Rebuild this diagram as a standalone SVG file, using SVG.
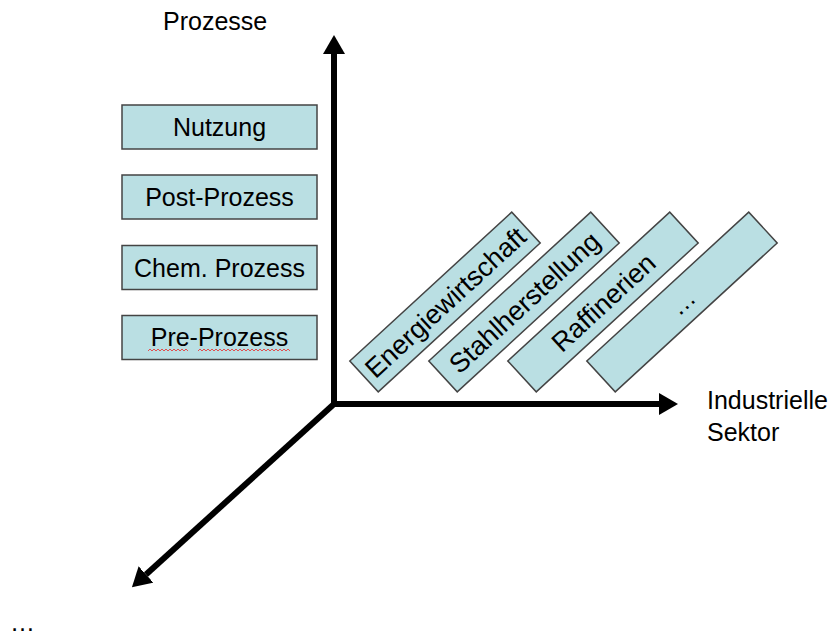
<svg xmlns="http://www.w3.org/2000/svg" width="835" height="639" viewBox="0 0 835 639">
<defs>
<style>
.box{fill:#BADFE3;stroke:#444;stroke-width:1.5}
.t{font-family:"Liberation Sans",Arial,sans-serif;font-size:25px;fill:#000}
.s{font-size:27px}
.c{text-anchor:middle}
.axis{stroke:#000;stroke-width:6;fill:none}
.squig{stroke:#E05050;stroke-width:1;fill:none}
</style>
<marker id="ah" markerUnits="userSpaceOnUse" markerWidth="20" markerHeight="22" refX="0" refY="11" orient="auto" viewBox="0 0 20 22">
<path d="M0,0 L19,11 L0,22 z" fill="#000"/>
</marker>
</defs>
<rect width="835" height="639" fill="#fff"/>

<g id="connectors">
<line class="axis" x1="334" y1="407" x2="334" y2="54" marker-end="url(#ah)"/>
<line class="axis" x1="331" y1="404" x2="659" y2="404" marker-end="url(#ah)"/>
<line class="axis" x1="334" y1="404" x2="146" y2="574.5" marker-end="url(#ah)"/>
</g>

<text class="t" x="163" y="30">Prozesse</text>
<text class="t" x="707" y="409">Industrielle</text>
<text class="t" x="707" y="441">Sektor</text>
<text class="t" x="10" y="631">…</text>

<g id="nutzung">
<rect class="box" x="122" y="105" width="195" height="44"/>
<text class="t c" x="219.5" y="136">Nutzung</text>
</g>
<g id="post-prozess">
<rect class="box" x="122" y="175" width="195" height="44"/>
<text class="t c" x="219.5" y="206">Post-Prozess</text>
</g>
<g id="chem-prozess">
<rect class="box" x="122" y="245.5" width="195" height="44"/>
<text class="t c" x="219.5" y="276.5">Chem. Prozess</text>
</g>
<g id="pre-prozess">
<rect class="box" x="122" y="315.5" width="195" height="44"/>
<text class="t c" x="219.5" y="346">Pre-Prozess</text>
<path class="squig" d="M148,351 l2,-2 l2,2 l2,-2 l2,2 l2,-2 l2,2 l2,-2 l2,2 l2,-2 l2,2 l2,-2 l2,2 l2,-2 l2,2 l2,-2 l2,2 l2,-2 l2,2 l2,-2 l2,2"/>
<path class="squig" d="M198,351 l2,-2 l2,2 l2,-2 l2,2 l2,-2 l2,2 l2,-2 l2,2 l2,-2 l2,2 l2,-2 l2,2 l2,-2 l2,2 l2,-2 l2,2 l2,-2 l2,2 l2,-2 l2,2 l2,-2 l2,2 l2,-2 l2,2 l2,-2 l2,2 l2,-2 l2,2 l2,-2 l2,2 l2,-2 l2,2 l2,-2 l2,2 l2,-2 l2,2 l2,-2 l2,2 l2,-2 l2,2 l2,-2 l2,2 l2,-2 l2,2 l2,-2 l2,2"/>
</g>

<g id="energiewirtschaft" transform="translate(445,302) rotate(-42.6)">
<rect class="box" x="-110" y="-21" width="220" height="42"/>
<text class="t s c" x="0" y="10">Energiewirtschaft</text>
</g>
<g id="stahlherstellung" transform="translate(524,302) rotate(-42.6)">
<rect class="box" x="-110" y="-21" width="220" height="42"/>
<text class="t s c" x="0" y="10">Stahlherstellung</text>
</g>
<g id="raffinerien" transform="translate(603,302) rotate(-42.6)">
<rect class="box" x="-110" y="-21" width="220" height="42"/>
<text class="t s c" x="0" y="10">Raffinerien</text>
</g>
<g id="weitere" transform="translate(682,302) rotate(-42.6)">
<rect class="box" x="-110" y="-21" width="220" height="42"/>
<text class="t c" x="0" y="9">…</text>
</g>
</svg>
